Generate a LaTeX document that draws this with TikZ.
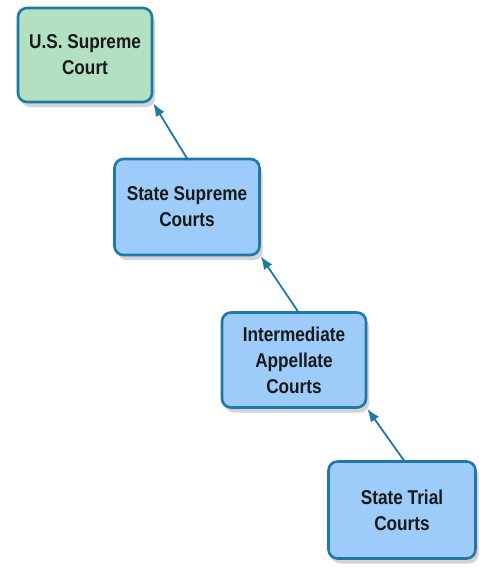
\documentclass[tikz,border=0pt]{standalone}
\usepackage{fontspec}
\setmainfont{Liberation Sans}[FakeStretch=0.86]
\usetikzlibrary{shadows,arrows.meta}
\definecolor{edgeblue}{HTML}{1F78A6}
\definecolor{boxgreen}{HTML}{B4E0C2}
\definecolor{boxblue}{HTML}{9DCCFA}
\tikzset{
  court/.style={draw=edgeblue, line width=2.6pt, rounded corners=9pt,
    align=center, font=\bfseries\fontsize{20}{26}\selectfont, text=black!90,
    drop shadow={opacity=0.35, shadow xshift=3pt, shadow yshift=-5pt}},
  greenbox/.style={court, fill=boxgreen},
  bluebox/.style={court, fill=boxblue},
  link/.style={draw=edgeblue, line width=1.8pt, -{Latex[length=13pt,width=10pt]}}
}
\begin{document}
\begin{tikzpicture}[x=1pt,y=-1pt]
\useasboundingbox (0,0) rectangle (484,568);
\node[greenbox, minimum width=134pt, minimum height=94pt] (us) at (85,55) {U.S. Supreme\\Court};
\node[bluebox, minimum width=145pt, minimum height=96pt] (ss) at (187,207) {State Supreme\\Courts};
\node[bluebox, minimum width=144pt, minimum height=95pt] (ia) at (294,360) {Intermediate\\Appellate\\Courts};
\node[bluebox, minimum width=147pt, minimum height=97pt] (tr) at (402,510) {State Trial\\Courts};
\coordinate (ssTop) at (188,160);
\coordinate (iaTop) at (299,313);
\coordinate (trTop) at (405,462);
\draw[link] (ssTop) -- (us.south east);
\draw[link] (iaTop) -- (ss.south east);
\draw[link] (trTop) -- (ia.south east);
\end{tikzpicture}
\end{document}
